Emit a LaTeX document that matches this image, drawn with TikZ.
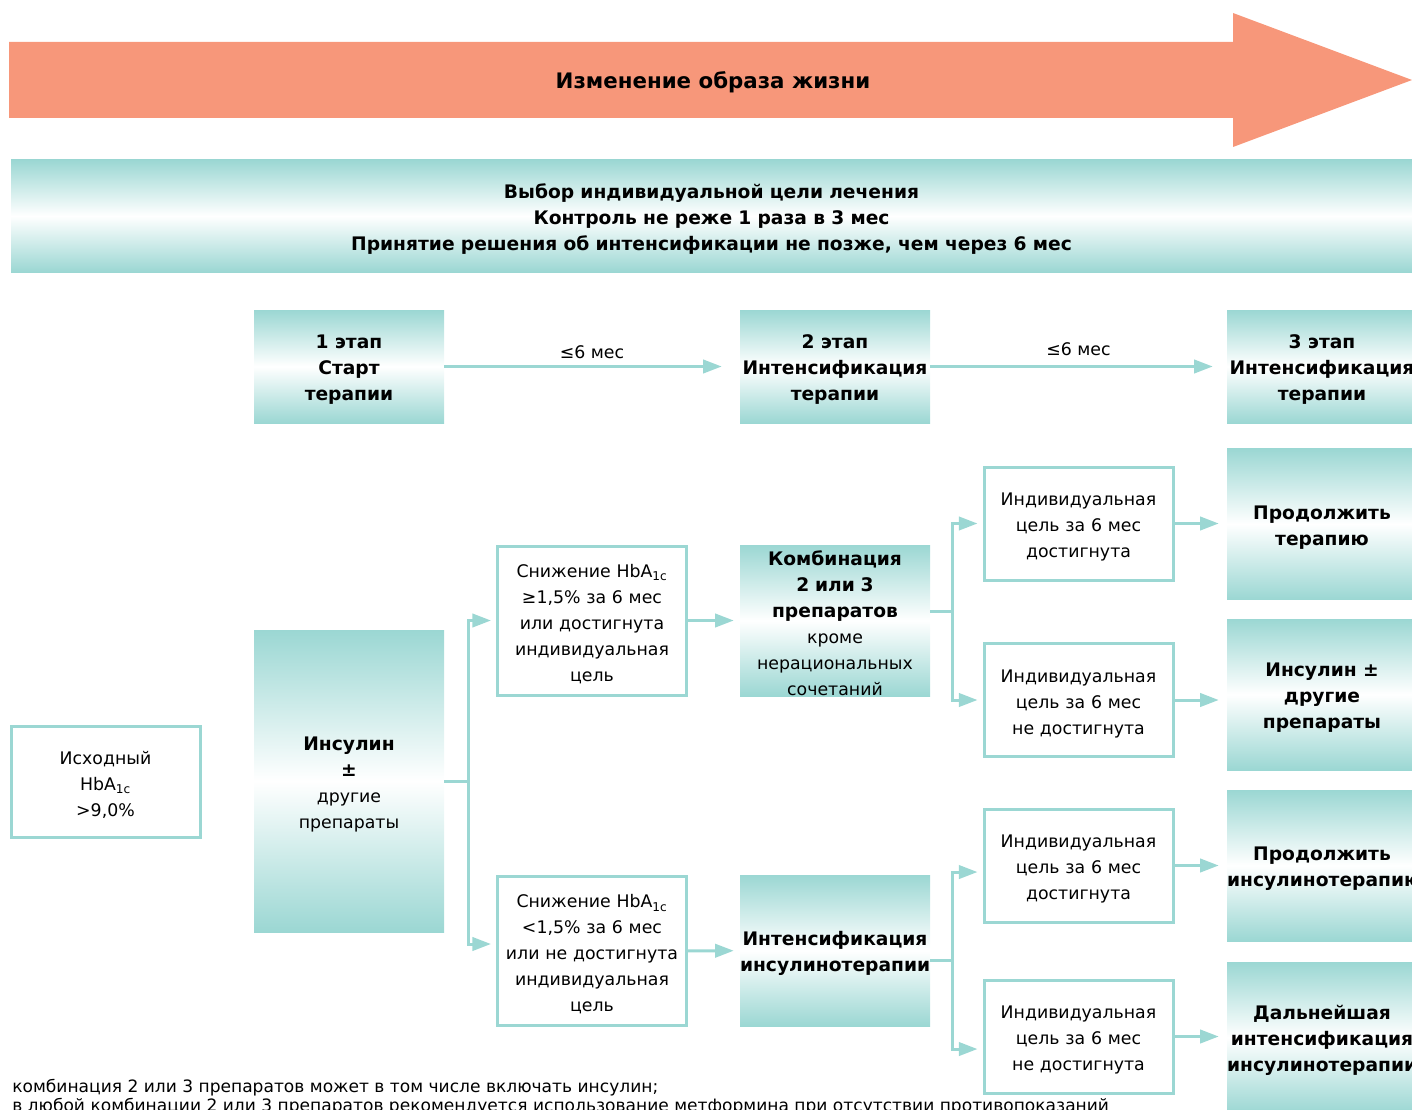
\documentclass[tikz,border=0pt]{standalone}
\usepackage{fontspec}
\setmainfont{DejaVu Sans}
\usetikzlibrary{arrows.meta}
\definecolor{mint}{RGB}{155,215,211}
\definecolor{salmon}{RGB}{247,151,122}
\newcommand{\bfbig}[1]{{\fontsize{14pt}{19.5pt}\selectfont\bfseries #1}}
\tikzset{>={Triangle[length=14pt,width=10pt]}}
\tikzset{
  txt/.style={font=\fontsize{13pt}{19.5pt}\selectfont, align=center, inner sep=0pt},
  bold/.style={font=\bfseries\fontsize{14pt}{19.5pt}\selectfont},
  lower/.style={text width=138pt, execute at begin node={\rule{0pt}{15pt}}},
  grad/.style={txt, lower, text width=142.5pt, top color=mint, bottom color=mint, middle color=white, minimum width=142.5pt},
  frame/.style={txt, lower, draw=mint, line width=2.25pt, fill=white, minimum width=141.75pt},
  link/.style={draw=mint, line width=2.25pt},
}

\begin{document}
\begin{tikzpicture}[x=0.75pt,y=-0.75pt]
  \useasboundingbox (0,0) rectangle (1412,1109);
  \fill[salmon] (9,42) -- (1233,42) -- (1233,13) -- (1412,80) -- (1233,147) -- (1233,118) -- (9,118) -- cycle;
  \node[txt,font=\bfseries\fontsize{16pt}{19pt}\selectfont] (life) at (713,82) {Изменение образа жизни};
  \node[grad,bold,text width=1000pt,minimum width=1050.75pt,minimum height=84pt] (goal) at (711.5,216) {Выбор индивидуальной цели лечения\\Контроль не реже 1 раза в 3 мес\\Принятие решения об интенсификации не позже, чем через 6 мес};

  \node[grad,bold,minimum height=84.75pt] (stage1) at (349,366.5) {1 этап\\Старт\\терапии};
  \node[grad,bold,minimum height=84.75pt] (stage2) at (835,366.5) {2 этап\\Интенсификация\\терапии};
  \node[grad,bold,minimum height=84.75pt] (stage3) at (1322,366.5) {3 этап\\Интенсификация\\терапии};
  \draw[link,->,shorten >=13.5pt] (stage1) -- node[txt,above=5pt] {≤6 мес} (stage2);
  \draw[link,->,shorten >=10.5pt] (stage2) -- node[txt,above=7pt] {≤6 мес} (stage3);

  \node[frame,minimum height=83.25pt] (base) at (105.5,781.5) {Исходный\\HbA\textsubscript{1c}\\>9,0\%};
  \node[grad,minimum height=226.5pt] (ins) at (349,781) {\bfbig{Инсулин}\\\bfbig{±}\\другие\\препараты};

  \node[frame,minimum height=111.75pt] (drop1) at (592,620.5) {Снижение HbA\textsubscript{1c}\\≥1,5\% за 6 мес\\или достигнута\\индивидуальная\\цель};
  \node[frame,minimum height=111.75pt] (drop2) at (592,951) {Снижение HbA\textsubscript{1c}\\<1,5\% за 6 мес\\или не достигнута\\индивидуальная\\цель};
  \node[grad,minimum height=113.25pt] (combo) at (835,620.5) {\bfbig{Комбинация}\\\bfbig{2 или 3}\\\bfbig{препаратов}\\кроме\\нерациональных\\сочетаний};
  \node[grad,bold,minimum height=113.25pt] (intens) at (835,950.5) {Интенсификация\\инсулинотерапии};

  \node[frame,minimum height=84.75pt] (goal1) at (1078.5,523.5) {Индивидуальная\\цель за 6 мес\\достигнута};
  \node[frame,minimum height=84.75pt] (goal2) at (1078.5,700) {Индивидуальная\\цель за 6 мес\\не достигнута};
  \node[frame,minimum height=84.75pt] (goal3) at (1078.5,865.5) {Индивидуальная\\цель за 6 мес\\достигнута};
  \node[frame,minimum height=84.75pt] (goal4) at (1078.5,1036.5) {Индивидуальная\\цель за 6 мес\\не достигнута};

  \node[grad,bold,minimum height=113.25pt] (keep) at (1322,524) {Продолжить\\терапию};
  \node[grad,bold,minimum height=113.25pt] (more) at (1322,694.5) {Инсулин ±\\другие\\препараты};
  \node[grad,bold,minimum height=113.25pt] (keepins) at (1322,865.5) {Продолжить\\инсулинотерапию};
  \node[grad,bold,minimum height=113.25pt] (moreins) at (1322,1037.5) {Дальнейшая\\интенсификация\\инсулинотерапии};

  \coordinate (fork1) at (468,781);
  \coordinate (fork2) at (952,611.5);
  \coordinate (fork3) at (952,960.5);
  \draw[link] (ins.east |- fork1) -- (fork1);
  \draw[link,->,shorten >=3.75pt] (fork1) |- (drop1.west);
  \draw[link,->,shorten >=3.75pt] (fork1) |- ([yshift=5.25pt]drop2.west);
  \draw[link,->,shorten >=4.5pt] (drop1) -- (combo);
  \draw[link,->,shorten >=4.5pt] (drop2) -- (intens);

  \draw[link] (combo.east |- fork2) -- (fork2);
  \draw[link,->,shorten >=3.75pt] (fork2) |- (goal1.west);
  \draw[link,->,shorten >=3.75pt] (fork2) |- (goal2.west);
  \draw[link] (intens.east |- fork3) -- (fork3);
  \draw[link,->,shorten >=3.75pt] (fork3) |- ([yshift=-4.9pt]goal3.west);
  \draw[link,->,shorten >=3.75pt] (fork3) |- ([yshift=-9.4pt]goal4.west);

  \draw[link,->,shorten >=6pt] (goal1.east) -- (goal1.east -| keep.west);
  \draw[link,->,shorten >=6pt] (goal2.east) -- (goal2.east -| more.west);
  \draw[link,->,shorten >=6pt] (goal3.east) -- (goal3.east -| keepins.west);
  \draw[link,->,shorten >=6pt] (goal4.east) -- (goal4.east -| moreins.west);

  \node[txt,anchor=base west,font=\fontsize{12.8pt}{14pt}\selectfont] (note1) at (12,1092) {комбинация 2 или 3 препаратов может в том числе включать инсулин;};
  \node[txt,anchor=base west,font=\fontsize{12.8pt}{14pt}\selectfont] (note2) at (12,1111) {в любой комбинации 2 или 3 препаратов рекомендуется использование метформина при отсутствии противопоказаний};
\end{tikzpicture}
\end{document}
